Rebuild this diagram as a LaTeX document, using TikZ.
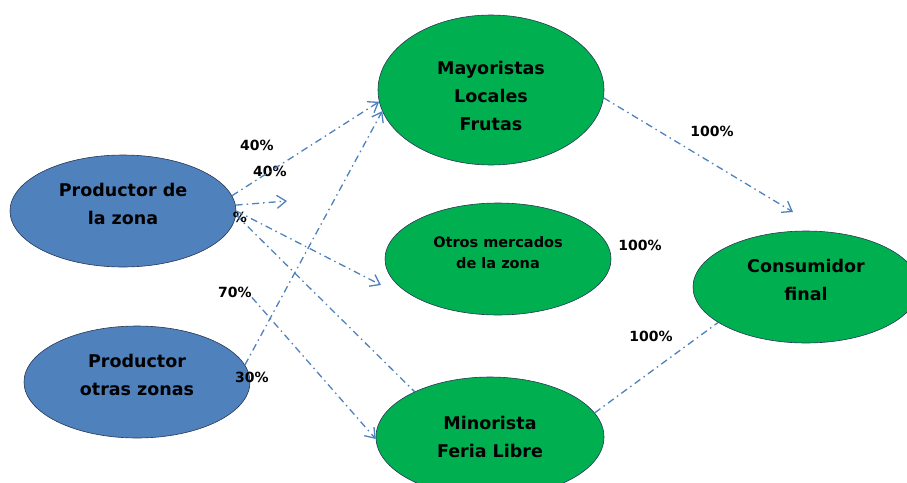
\documentclass[tikz,border=0pt]{standalone}
\usepackage{fontspec}
\setmainfont{DejaVu Sans}
\usetikzlibrary{shapes.geometric,arrows.meta}
\definecolor{azul}{RGB}{79,129,189}
\definecolor{verde}{RGB}{0,176,80}
\definecolor{borde}{RGB}{40,55,85}
\begin{document}
\begin{tikzpicture}[x=1pt, y=-1pt,
productor/.style={ellipse, draw=borde, fill=azul, line width=0.6pt, minimum width=226pt, minimum height=112pt, inner sep=0pt, text depth=14pt, align=center, font=\fontsize{17.5}{28}\selectfont\bfseries},
mercado/.style={productor, fill=verde},
flujo/.style={draw=azul, line width=1.3pt, dash pattern=on 7pt off 4pt on 1.5pt off 4pt},
flecha/.style={flujo, -{Straight Barb[length=9pt, width=13pt]}},
pct/.style={inner sep=0pt, font=\fontsize{14}{17}\selectfont\bfseries},
]
\useasboundingbox (0,0) rectangle (907,482);
\node[productor] (zona) at (123,211) {Productor de\\la zona};
\node[productor] (otras) at (137,382) {Productor\\otras zonas};
\node[mercado, minimum height=150pt, text depth=0pt, text height=80pt] (may) at (491,90) {Mayoristas\\Locales\\Frutas};
\node[mercado, font=\fontsize{14.5}{21}\selectfont\bfseries] (otros) at (498,259) {Otros mercados\\de la zona};
\node[mercado, minimum width=228pt, minimum height=120pt, text depth=0pt] (min) at (490,437) {Minorista\\Feria Libre};
\node[mercado] (cons) at (806,287) {Consumidor\\final};

\node[pct] (p40a) at (257,145) {40\%};
\node[pct] (p40b) at (270,171) {40\%};
\node[pct] (p20) at (240,217) {\%};
\node[pct] (p70) at (235,292) {70\%};
\node[pct] (p30) at (252,377) {30\%};
\node[pct] (p100a) at (712,131) {100\%};
\node[pct] (p100b) at (640,245) {100\%};
\node[pct] (p100c) at (651,336) {100\%};

\coordinate (finB) at (287,201);
\coordinate (finC) at (381,285);
\coordinate (finG) at (793,212);

\draw[flecha] (zona.8) -- (may.186);
\draw[flecha] (zona.3) -- (finB);
\draw[flecha] (zona.0) -- (finC);
\draw[flujo] (zona.-2) -- (min.149);
\draw[flecha] (otras.9) -- (may.191);
\draw[flecha] (p70.south east) -- (min.181);
\draw[flecha] (may.-4) -- (finG);
\draw[flujo] (min.13) -- (cons.202);
\end{tikzpicture}
\end{document}
